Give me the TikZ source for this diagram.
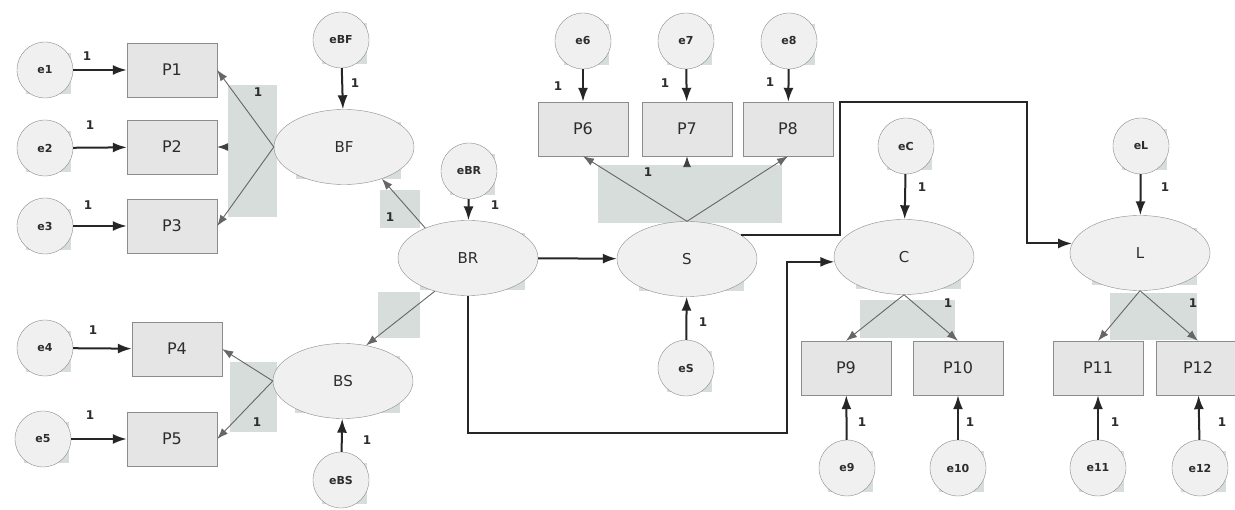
\documentclass[tikz,border=0pt]{standalone}
\usepackage{fontspec}
\setmainfont{DejaVu Sans}
\usetikzlibrary{shapes.geometric,arrows.meta,backgrounds}
\definecolor{patch}{RGB}{214,221,219}
\definecolor{nfill}{RGB}{240,240,240}
\definecolor{rfill}{RGB}{229,229,229}
\definecolor{bord}{RGB}{140,140,140}
\definecolor{txt}{RGB}{45,45,45}
\begin{document}
\begin{tikzpicture}[x=1pt,y=-1pt,
  err/.style={circle, draw=bord, fill=nfill, minimum size=56pt, inner sep=0pt, text=txt, font=\bfseries\fontsize{11}{11}\selectfont},
  obs/.style={rectangle, draw=bord, fill=rfill, minimum width=90pt, minimum height=54pt, inner sep=0pt, text=txt, font=\fontsize{16}{16}\selectfont},
  lat/.style={ellipse, draw=bord, fill=nfill, minimum width=140pt, minimum height=75pt, inner sep=0pt, text=txt, font=\fontsize{15}{15}\selectfont},
  strong/.style={-{Latex[length=14pt,width=10pt]}, line width=2pt, draw=black!85},
  load/.style={-{Latex[length=11pt,width=8pt]}, line width=0.9pt, draw=black!60},
  faint/.style={-{Latex[length=11pt,width=8pt,color=black!75]}, line width=0.9pt, draw=patch},
  num/.style={text=txt, font=\bfseries\fontsize{12}{12}\selectfont, inner sep=0pt}]
\useasboundingbox (0,0) rectangle (1235,510);
% fan patches
\fill[patch] (228,85) rectangle (277,217);
\fill[patch] (230,362) rectangle (277,432);
\fill[patch] (378,292) rectangle (420,338);
\fill[patch] (380,190) rectangle (420,228);
\fill[patch] (598,165) rectangle (782,223);
\fill[patch] (860,300) rectangle (955,338);
\fill[patch] (1110,293) rectangle (1197,340);
% nodes
\node[err] (e1) at (45,70) {e1};
\node[err] (e2) at (45,148) {e2};
\node[err] (e3) at (45,226) {e3};
\node[err] (e4) at (45,348) {e4};
\node[err] (e5) at (43,439) {e5};
\node[obs] (P1) at (172,70) {P1};
\node[obs] (P2) at (172,147) {P2};
\node[obs] (P3) at (172,226) {P3};
\node[obs] (P4) at (177,349) {P4};
\node[obs] (P5) at (172,439) {P5};
\node[lat] (BF) at (344,147) {BF};
\node[lat] (BS) at (343,381) {BS};
\node[err] (eBF) at (341,40) {eBF};
\node[err] (eBS) at (341,480) {eBS};
\node[lat] (BR) at (468,258) {BR};
\node[err] (eBR) at (469,171) {eBR};
\node[lat] (S) at (687,259) {S};
\node[err] (eS) at (686,368) {eS};
\node[obs] (P6) at (583,129) {P6};
\node[obs] (P7) at (687,129) {P7};
\node[obs] (P8) at (788,129) {P8};
\node[err] (e6) at (583,41) {e6};
\node[err] (e7) at (686,41) {e7};
\node[err] (e8) at (789,41) {e8};
\node[lat] (C) at (904,257) {C};
\node[err] (eC) at (906,146) {eC};
\node[lat] (L) at (1140,253) {L};
\node[err] (eL) at (1141,146) {eL};
\node[obs] (P9) at (846,368) {P9};
\node[obs] (P10) at (958,368) {P10};
\node[obs] (P11) at (1098,368) {P11};
\node[obs, minimum width=84pt] (P12) at (1198,368) {P12};
\node[err] (e9) at (847,468) {e9};
\node[err] (e10) at (958,468) {e10};
\node[err] (e11) at (1098,468) {e11};
\node[err] (e12) at (1200,468) {e12};
% node patches
\begin{scope}[on background layer]
\fill[white] (0,0) rectangle (1235,510);
\foreach \n in {e1,e2,e3,e4,e5,eBF,eBS,eBR,eS,e6,e7,e8,eC,eL,e9,e10,e11,e12}
  \fill[patch] ([xshift=1pt,yshift=-3pt]\n.north west) rectangle ([xshift=6pt,yshift=-4pt]\n.south east);
\foreach \n in {BF,BS,BR,S,C,L}
  \fill[patch] ([xshift=2pt,yshift=-2pt]\n.north west) rectangle ([xshift=7pt,yshift=-5pt]\n.south east);
\end{scope}
% coordinates for bends
\coordinate (k1) at (840,102);
\coordinate (k2) at (1027,102);
\coordinate (k3) at (787,433);
% strong paths
\draw[strong] (e1) -- (P1);
\draw[strong] (e2) -- (P2);
\draw[strong] (e3) -- (P3);
\draw[strong] (e4) -- (P4);
\draw[strong] (e5) -- (P5);
\draw[strong] (eBF) -- (BF);
\draw[strong] (eBS) -- (BS);
\draw[strong] (eBR) -- (BR);
\draw[strong] (e6) -- (P6);
\draw[strong] (e7) -- (P7);
\draw[strong] (e8) -- (P8);
\draw[strong] (eS) -- (S);
\draw[strong] (eC) -- (C);
\draw[strong] (eL) -- (L);
\draw[strong] (e9) -- (P9);
\draw[strong] (e10) -- (P10);
\draw[strong] (e11) -- (P11);
\draw[strong] (e12) -- (P12);
\draw[strong] (BR) -- (S);
\draw[strong] (S.24) -- (k1 |- S.24) -- (k1) -- (k2) |- (L.172);
\draw[strong] (BR.south) |- (k3) |- (C.184);
% loadings
\draw[load] (BF.west) -- (P1.east);
\draw[faint] (BF.west) -- (P2.east);
\draw[load] (BF.west) -- (P3.east);
\draw[load] (BR.145) -- (BF.-40);
\draw[load] (BR.225) -- (BS.57);
\draw[load] (BS.west) -- (P4.east);
\draw[load] (BS.west) -- (P5.east);
\draw[load] (S.north) -- (P6.south);
\draw[faint] (S.north) -- (P7.south);
\draw[load] (S.north) -- (P8.south);
\draw[load] (C.south) -- (P9.north);
\draw[load] (C.south) -- (P10.north);
\draw[load] (L.south) -- (P11.north);
\draw[load] (L.south) -- (P12.north);
% labels
\node[num] (n1) at (87,56) {1};
\node[num] (n2) at (90,125) {1};
\node[num] (n3) at (88,205) {1};
\node[num] (n4) at (258,92) {1};
\node[num] (n5) at (355,83) {1};
\node[num] (n6) at (390,217) {1};
\node[num] (n7) at (93,330) {1};
\node[num] (n8) at (90,415) {1};
\node[num] (n9) at (257,422) {1};
\node[num] (n10) at (367,440) {1};
\node[num] (n11) at (495,205) {1};
\node[num] (n12) at (558,86) {1};
\node[num] (n13) at (665,83) {1};
\node[num] (n14) at (770,82) {1};
\node[num] (n15) at (648,172) {1};
\node[num] (n16) at (703,322) {1};
\node[num] (n17) at (922,187) {1};
\node[num] (n18) at (948,303) {1};
\node[num] (n19) at (862,422) {1};
\node[num] (n20) at (970,422) {1};
\node[num] (n21) at (1165,187) {1};
\node[num] (n22) at (1193,303) {1};
\node[num] (n23) at (1115,422) {1};
\node[num] (n24) at (1222,422) {1};
\end{tikzpicture}
\end{document}
